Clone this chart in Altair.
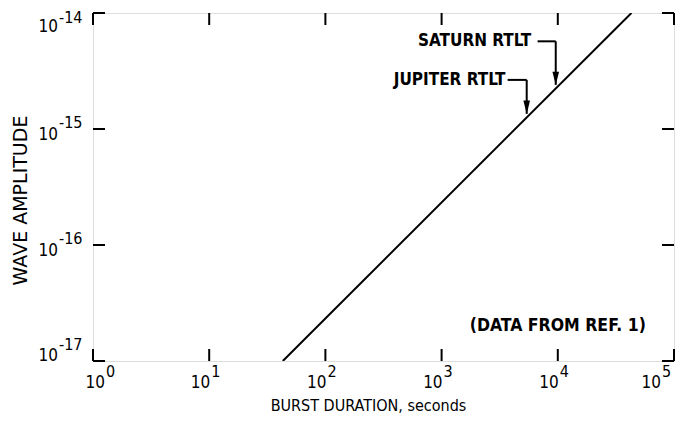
import altair as alt
import pandas as pd

# ---- data ----
line_duration = [43, 43000]
line_amplitude = [1e-17, 1e-14]

x_decades = [1, 10, 100, 1000, 10000, 100000]
x_exponents = ["0", "1", "2", "3", "4", "5"]
y_decades = [1e-17, 1e-16, 1e-15, 1e-14]
y_exponents = ["-17", "-16", "-15", "-14"]

ann_names = ["SATURN RTLT", "JUPITER RTLT"]
ann_text_end = [5900, 3550]
ann_x_start = [6700, 3700]
ann_x_arrow = [9600, 5400]
ann_y_label = [5.7e-15, 2.65e-15]
ann_y_tip = [2.4e-15, 1.35e-15]

note_text = ["(DATA FROM REF. 1)"]
note_x = [10000]
note_y = [2.0e-17]

W, H = 581, 348
FONT = "DejaVu Sans Condensed"
WIDE = "DejaVu Sans"

xs = alt.Scale(type="log", domain=[1, 1e5], nice=False)
ys = alt.Scale(type="log", domain=[1e-17, 1e-14], nice=False)

line_df = pd.DataFrame({"d": line_duration, "a": line_amplitude})
xt = pd.DataFrame({"v": x_decades, "e": x_exponents, "b": ["10"] * 6})
yt = pd.DataFrame({"v": y_decades, "e": y_exponents, "b": ["10"] * 4})
ann = pd.DataFrame({"name": ann_names, "te": ann_text_end, "xs": ann_x_start,
                    "xa": ann_x_arrow, "yl": ann_y_label, "yt": ann_y_tip})
note = pd.DataFrame({"t": note_text, "x": note_x, "y": note_y})

X = lambda f: alt.X(f, type="quantitative", scale=xs)
Y = lambda f: alt.Y(f, type="quantitative", scale=ys)

main = alt.Chart(line_df).mark_line(color="black", strokeWidth=2, clip=True).encode(
    x=alt.X("d:Q", scale=xs,
            axis=alt.Axis(title="BURST DURATION, seconds", labels=False, ticks=False,
                          domain=False, grid=False, titleFont=FONT, titleFontSize=16,
                          titleFontWeight="normal", titleColor="black",
                          titleX=275, titleY=44, titleBaseline="middle")),
    y=alt.Y("a:Q", scale=ys,
            axis=alt.Axis(title="WAVE AMPLITUDE", labels=False, ticks=False,
                          domain=False, grid=False, titleFont=WIDE, titleFontSize=19,
                          titleFontWeight="normal", titleColor="black",
                          titleX=-73, titleY=187, titleBaseline="middle")),
)

TL = 12
tick_b = alt.Chart(xt).mark_rule(color="black", strokeWidth=2).encode(
    x=X("v"), y=alt.value(H), y2=alt.value(H - TL))
tick_t = alt.Chart(xt).mark_rule(color="black", strokeWidth=2).encode(
    x=X("v"), y=alt.value(0), y2=alt.value(TL))
tick_l = alt.Chart(yt).mark_rule(color="black", strokeWidth=2).encode(
    y=Y("v"), x=alt.value(0), x2=alt.value(TL))
tick_r = alt.Chart(yt).mark_rule(color="black", strokeWidth=2).encode(
    y=Y("v"), x=alt.value(W), x2=alt.value(W - TL))

LBL = dict(font=FONT, color="black", baseline="middle")


def xlab(filt, dx_base):
    base = alt.Chart(xt).transform_filter(filt).mark_text(
        fontSize=17, align="right", dx=dx_base, **LBL).encode(
        x=X("v"), y=alt.value(H + 22), text="b:N")
    exp = alt.Chart(xt).transform_filter(filt).mark_text(
        fontSize=16, align="left", dx=dx_base + 1, **LBL).encode(
        x=X("v"), y=alt.value(H + 11), text="e:N")
    return [base, exp]


def ylab(filt, dy_base, dy_exp):
    base = alt.Chart(yt).transform_filter(filt).mark_text(
        fontSize=17, align="right", dy=dy_base, **LBL).encode(
        y=Y("v"), x=alt.value(-35), text="b:N")
    exp = alt.Chart(yt).transform_filter(filt).mark_text(
        fontSize=16, align="left", dy=dy_exp, **LBL).encode(
        y=Y("v"), x=alt.value(-34), text="e:N")
    return [base, exp]


labels = []
labels += xlab("datum.v == 1", 12)
labels += xlab("datum.v > 1 && datum.v < 100000", 1)
labels += xlab("datum.v == 100000", -13)
labels += ylab("datum.v > 5e-15", 14, 5)
labels += ylab("datum.v > 5e-17 && datum.v < 5e-15", 6, -6)
labels += ylab("datum.v < 5e-17", -5, -16)

h_seg = alt.Chart(ann).mark_rule(color="black", strokeWidth=2).encode(
    x=X("xs"), x2="xa:Q", y=Y("yl"))
v_seg = alt.Chart(ann).mark_rule(color="black", strokeWidth=2).encode(
    x=X("xa"), y=Y("yl"), y2="yt:Q")
heads = alt.Chart(ann).mark_point(shape="M-1,-4L1,-4L0,0Z", size=44, filled=True,
                                  color="black", opacity=1).encode(
    x=X("xa"), y=Y("yt"))
ann_txt = alt.Chart(ann).mark_text(font=FONT, fontSize=17, fontWeight="bold", align="right",
                                   baseline="middle", color="black").encode(
    x=X("te"), y=Y("yl"), text="name:N")
note_txt = alt.Chart(note).mark_text(font=FONT, fontSize=17.5, fontWeight="bold", align="center",
                                     baseline="middle", color="black").encode(
    x=X("x"), y=Y("y"), text="t:N")

chart = alt.layer(main, tick_b, tick_t, tick_l, tick_r, *labels,
                  h_seg, v_seg, heads, ann_txt, note_txt).properties(
    width=W, height=H,
    autosize=alt.AutoSizeParams(type="none"),
    padding={"left": 85, "top": 5, "right": 2, "bottom": 54},
).configure_view(stroke="black", strokeWidth=2.5).configure(background="white")

chart.save("out.html", embed_options={"renderer": "svg", "actions": False})
